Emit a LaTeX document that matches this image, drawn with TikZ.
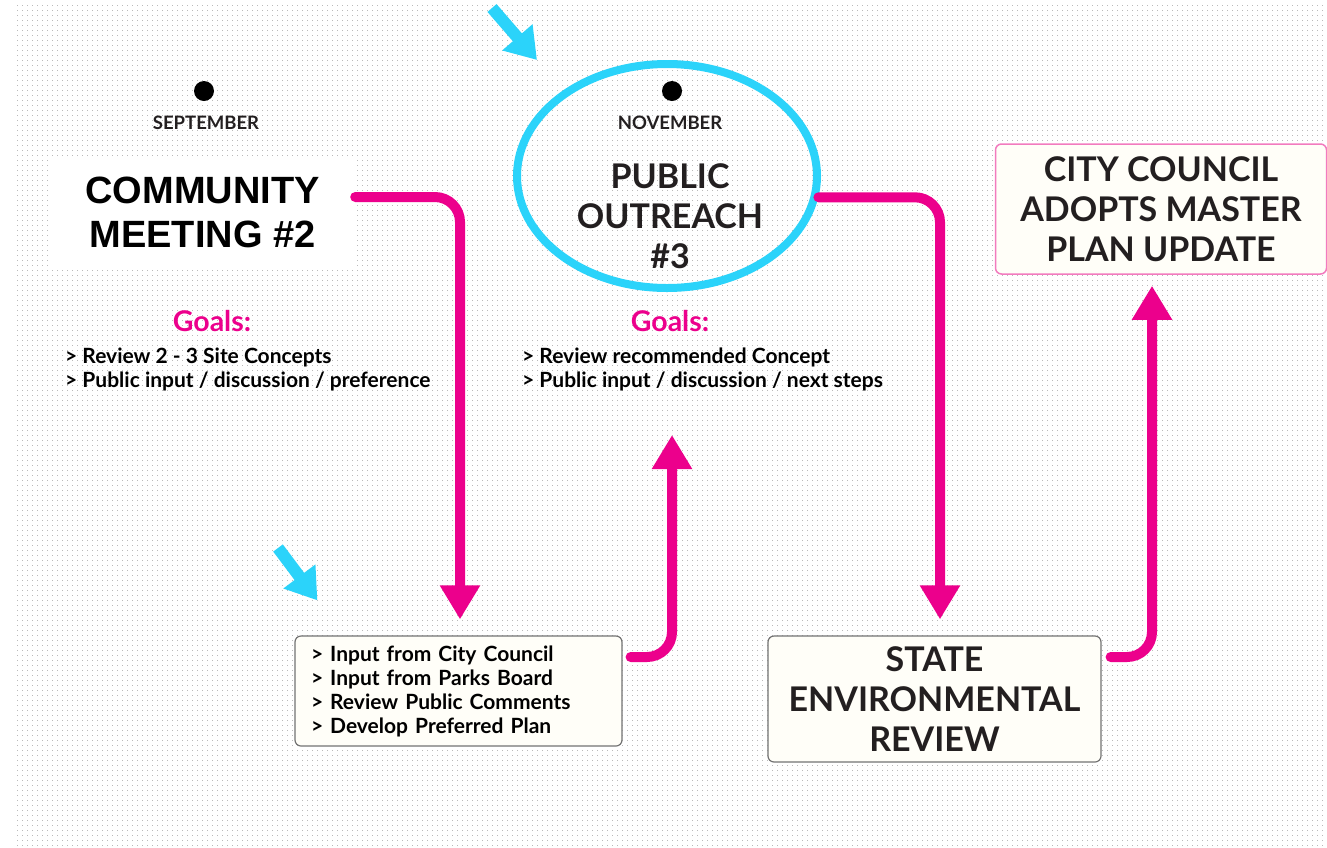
\documentclass[tikz,border=0pt]{standalone}
\usepackage{fontspec}
\setmainfont{Lato}
\newfontfamily\arialb{Liberation Sans}[BoldFont={* Bold}]
\newfontfamily\latob{Lato Bold}
\usetikzlibrary{arrows.meta,shapes.geometric}
\definecolor{mag}{HTML}{EC008C}
\definecolor{cyn}{HTML}{2BD3FA}
\definecolor{ink}{HTML}{231F20}
\definecolor{ivory}{HTML}{FFFEF8}
\definecolor{pinkline}{HTML}{F27BBF}
\tikzset{
  dotrow/.style={black!27, line width=1pt, dash pattern=on 1pt off 4pt},
  magarrow/.style={mag, line width=10pt, rounded corners=25pt, line cap=round,
     -{Triangle[width=38pt,length=34pt]}},
  cyanarrow/.style={cyn, line width=12pt, -{Triangle[width=38pt,length=30pt]}},
  monthdot/.style={circle, fill=black, minimum size=20pt, inner sep=0pt},
  monthlbl/.style={font=\latob\fontsize{18.5}{20}\selectfont, text=ink, inner sep=0pt},
  goalshead/.style={font=\latob\fontsize{28.5}{32}\selectfont, text=mag, inner sep=0pt},
  goalslist/.style={font=\latob\fontsize{21}{24}\selectfont, text=black, align=left, inner sep=0pt},
  bigtitle/.style={font=\latob\fontsize{34}{40}\selectfont, text=ink, align=center},
  ivorybox/.style={draw=black!55, line width=1.2pt, fill=ivory, rounded corners=6pt},
}
\begin{document}
\begin{tikzpicture}[x=1pt,y=-1pt]
\useasboundingbox (0,0) rectangle (1327,847);
\fill[white] (0,0) rectangle (1327,847);
\foreach \r in {0,...,168}{\draw[dotrow] (17,{5+5*\r}) -- (1327,{5+5*\r});}

% left column
\node[monthdot] (sepdot) at (204,91) {};
\node[monthlbl] (sep) at (206,123) {SEPTEMBER};
\node[fill=white, minimum width=305pt, minimum height=110pt, align=center,
      font=\arialb\bfseries\fontsize{38}{44}\selectfont, text=black] (cm) at (202.5,212)
      {COMMUNITY\\MEETING \#2};
\node[goalshead] (goalsL) at (212,321) {Goals:};
\node[goalslist, anchor=west] (listL) at (65,369)
  {> Review 2 - 3 Site Concepts\\> Public input / discussion / preference};

% middle column
\node[ellipse, draw=cyn, line width=8pt, minimum width=300pt, minimum height=224pt] (po) at (667,176) {};
\node[monthdot] (novdot) at (672,91) {};
\node[monthlbl] (nov) at (670,123) {NOVEMBER};
\node[bigtitle] (pot) at (670,216) {PUBLIC\\OUTREACH\\\#3};
\node[goalshead] (goalsR) at (670,321) {Goals:};
\node[goalslist, anchor=west] (listR) at (522,369)
  {> Review recommended Concept\\> Public input / discussion / next steps};

% input box
\node[ivorybox, minimum width=327pt, minimum height=110pt, text width=295pt, inner xsep=16pt,
      align=left, font=\latob\fontsize{21}{24}\selectfont, text=black] (inp) at (458.5,691)
  {> Input from City Council\\> Input from Parks Board\\> Review Public Comments\\> Develop Preferred Plan};

% state environmental review
\node[ivorybox, minimum width=333pt, minimum height=126pt, bigtitle] (ser) at (934.5,699)
  {STATE\\ENVIRONMENTAL\\REVIEW};

% city council box
\node[draw=pinkline, line width=1.5pt, fill=ivory, rounded corners=6pt,
      minimum width=331pt, minimum height=130pt, bigtitle] (cc) at (1161,209)
  {CITY COUNCIL\\ADOPTS MASTER\\PLAN UPDATE};

% connectors
\coordinate (s3) at ([xshift=8pt,yshift=34pt]inp.east);
\coordinate (t3) at (672,435);
\coordinate (s4) at ([xshift=9pt,yshift=42pt]ser.east);

\draw[magarrow] ([yshift=15pt]cm.east) -| ([xshift=1.5pt,yshift=16pt]inp.north);
\draw[magarrow] (po.-8) -| ([xshift=5.5pt,yshift=16pt]ser.north);
\draw[magarrow] (s3) -| (t3);
\draw[magarrow] (s4) -| ([xshift=-9pt,yshift=-11pt]cc.south);

% cyan pointers
\coordinate (c1s) at (492,8);
\coordinate (c1t) at (537,60);
\coordinate (c2s) at (278,548);
\draw[cyanarrow] (c1s) -- (c1t);
\draw[cyanarrow] (c2s) -- ([xshift=23pt,yshift=35pt]inp.north west);
\end{tikzpicture}
\end{document}
